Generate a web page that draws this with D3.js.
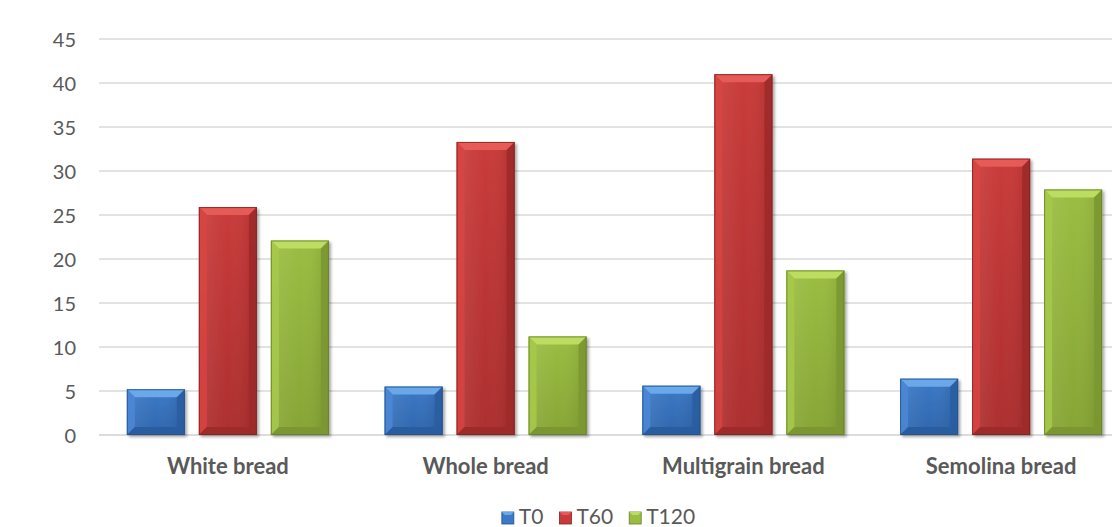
<!DOCTYPE html>
<html>
<head>
<meta charset="utf-8">
<script src="https://cdn.jsdelivr.net/npm/d3@7"></script>
<style>
  html, body { margin: 0; padding: 0; background: #ffffff; }
  svg { display: block; }
</style>
</head>
<body>
<svg id="chart" width="1112" height="527"></svg>
<script>
// Chart data
const categories = ["White bread", "Whole bread", "Multigrain bread", "Semolina bread"];
const seriesNames = ["T0", "T60", "T120"];
const t0Values   = [5.2, 5.5, 5.6, 6.4];
const t60Values  = [25.9, 33.3, 41.0, 31.4];
const t120Values = [22.1, 11.2, 18.7, 27.9];
const yTicks = [0, 5, 10, 15, 20, 25, 30, 35, 40, 45];

const seriesValues = [t0Values, t60Values, t120Values];

// Bevelled fill palettes per series
const palettes = [
  { top: "#6aa8ea", light: "#4d8ad8", main: "#3c79c6", bottom: "#2f66ad", dark: "#2a5c9e", edge: "#24518c" },
  { top: "#e65a58", light: "#d84644", main: "#c93b3a", bottom: "#ad2f2f", dark: "#9c2a2a", edge: "#822222" },
  { top: "#bcdc62", light: "#a8ca4c", main: "#9bbd42", bottom: "#86a535", dark: "#7a9630", edge: "#667f27" }
];

const svg = d3.select("#chart");
const plot = { left: 99, right: 1130, top: 39, bottom: 435 };

const x0 = d3.scaleBand().domain(categories).range([plot.left, plot.right]).paddingInner(0).paddingOuter(0);
const x1 = d3.scaleBand().domain(seriesNames).range([0, x0.bandwidth()]).paddingInner(0.194).paddingOuter(0.387);
const y = d3.scaleLinear().domain([0, 45]).range([plot.bottom, plot.top]);

const defs = svg.append("defs");
palettes.forEach((p, i) => {
  const g = defs.append("linearGradient").attr("id", "grad" + i)
    .attr("x1", 0).attr("y1", 0).attr("x2", 0).attr("y2", 1);
  g.append("stop").attr("offset", "0%").attr("stop-color", p.main);
  g.append("stop").attr("offset", "100%").attr("stop-color", p.bottom);
  const h = defs.append("linearGradient").attr("id", "hgrad" + i)
    .attr("x1", 0).attr("y1", 0).attr("x2", 1).attr("y2", 0);
  h.append("stop").attr("offset", "0%").attr("stop-color", "#ffffff").attr("stop-opacity", 0.06);
  h.append("stop").attr("offset", "50%").attr("stop-color", "#ffffff").attr("stop-opacity", 0.0);
  h.append("stop").attr("offset", "100%").attr("stop-color", "#000000").attr("stop-opacity", 0.06);
});
const shadow = defs.append("filter").attr("id", "shadow")
  .attr("x", "-10%").attr("y", "-10%").attr("width", "130%").attr("height", "130%");
shadow.append("feGaussianBlur").attr("in", "SourceAlpha").attr("stdDeviation", 1.6);
shadow.append("feOffset").attr("dx", 1.5).attr("dy", 1.5).attr("result", "ob");
shadow.append("feComponentTransfer").append("feFuncA").attr("type", "linear").attr("slope", 0.35);
const merge = shadow.append("feMerge");
merge.append("feMergeNode");
merge.append("feMergeNode").attr("in", "SourceGraphic");

// Gridlines
const grid = svg.append("g");
grid.selectAll("line").data(yTicks).join("line")
  .attr("x1", plot.left).attr("x2", plot.right)
  .attr("y1", d => y(d)).attr("y2", d => y(d))
  .attr("stroke", d => d === 0 ? "#d0d0d0" : "#d9d9d9")
  .attr("stroke-width", 1.4);

// Y axis labels
const yAxis = d3.axisLeft(y).tickValues(yTicks).tickSize(0).tickPadding(0);
const yg = svg.append("g").attr("transform", `translate(${plot.left - 23},0)`).call(yAxis);
yg.select(".domain").remove();
yg.selectAll("text")
  .attr("font-family", "Lato, 'Open Sans', sans-serif")
  .attr("font-size", 20)
  .attr("fill", "#595959")
  .attr("dy", "0.36em");

// Bars
const rows = categories.map((c, ci) => ({ cat: c, vals: seriesNames.map((s, si) => ({ s, si, v: seriesValues[si][ci] })) }));
const bevel = 8;
const groups = svg.append("g").selectAll("g").data(rows).join("g")
  .attr("transform", d => `translate(${x0(d.cat)},0)`);

groups.selectAll("g.bar").data(d => d.vals).join("g").attr("class", "bar")
  .attr("filter", "url(#shadow)")
  .each(function(d) {
    const g = d3.select(this);
    const p = palettes[d.si];
    const bx = x1(d.s), bw = x1.bandwidth();
    const by = y(d.v), bh = y(0) - y(d.v);
    const b = Math.min(bevel, bh / 2);
    g.append("rect").attr("x", bx).attr("y", by).attr("width", bw).attr("height", bh)
      .attr("fill", `url(#grad${d.si})`);
    // top facet
    g.append("polygon")
      .attr("points", [[bx, by], [bx + bw, by], [bx + bw - b, by + b], [bx + b, by + b]].map(q => q.join(",")).join(" "))
      .attr("fill", p.top);
    // left facet
    g.append("polygon")
      .attr("points", [[bx, by], [bx + b, by + b], [bx + b, by + bh - b], [bx, by + bh]].map(q => q.join(",")).join(" "))
      .attr("fill", p.light).attr("opacity", 0.85);
    // right facet
    g.append("polygon")
      .attr("points", [[bx + bw, by], [bx + bw, by + bh], [bx + bw - b, by + bh - b], [bx + bw - b, by + b]].map(q => q.join(",")).join(" "))
      .attr("fill", p.dark).attr("opacity", 0.9);
    // bottom facet
    g.append("polygon")
      .attr("points", [[bx, by + bh], [bx + b, by + bh - b], [bx + bw - b, by + bh - b], [bx + bw, by + bh]].map(q => q.join(",")).join(" "))
      .attr("fill", p.dark).attr("opacity", 0.9);
    // soft horizontal sheen on the face
    g.append("rect").attr("x", bx + b).attr("y", by + b).attr("width", bw - 2 * b).attr("height", Math.max(0, bh - 2 * b))
      .attr("fill", `url(#hgrad${d.si})`);
    g.append("rect").attr("x", bx + 0.5).attr("y", by + 0.5).attr("width", bw - 1).attr("height", bh - 1)
      .attr("fill", "none").attr("stroke", p.edge).attr("stroke-width", 1).attr("stroke-opacity", 0.8);
  });

// Category labels
const xAxis = d3.axisBottom(x0).tickSize(0).tickPadding(0);
const xg = svg.append("g").attr("transform", `translate(0,${plot.bottom})`).call(xAxis);
xg.select(".domain").remove();
xg.selectAll("text")
  .attr("font-family", "Lato, 'Open Sans', sans-serif")
  .attr("font-size", 22)
  .attr("font-weight", "bold")
  .attr("fill", "#595959")
  .attr("dy", 0)
  .attr("y", 39);

// Legend
const legend = svg.append("g");
const items = legend.selectAll("g").data(seriesNames).join("g");
items.append("rect").attr("width", 12).attr("height", 12).attr("y", -12)
  .attr("fill", (d, i) => palettes[i].main).attr("stroke", (d, i) => palettes[i].edge).attr("stroke-width", 0.8);
items.append("polygon").attr("points", "0,-12 12,-12 9,-9 3,-9")
  .attr("fill", (d, i) => palettes[i].top);
items.append("text").attr("x", 17).attr("y", 0)
  .attr("font-family", "Lato, 'Open Sans', sans-serif")
  .attr("font-size", 21).attr("fill", "#595959")
  .text(d => d);
let lx = 0;
const gap = 16;
items.each(function() {
  const w = this.getBBox().width;
  d3.select(this).attr("transform", `translate(${lx},524)`);
  lx += w + gap;
});
const totalW = lx - gap;
legend.attr("transform", `translate(${598.5 - totalW / 2},0)`);
</script>
</body>
</html>
